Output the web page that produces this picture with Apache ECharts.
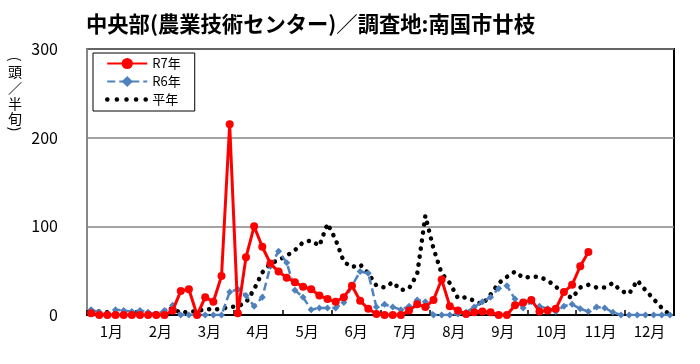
<!DOCTYPE html>
<html><head><meta charset="utf-8">
<script src="https://cdn.jsdelivr.net/npm/echarts@6/dist/echarts.min.js"></script>
<style>html,body{margin:0;padding:0;background:#fff}#c{width:700px;height:364px}</style>
</head><body><div id="c"></div>
<script>
const months = ['1月','2月','3月','4月','5月','6月','7月','8月','9月','10月','11月','12月'];
const yTicks = [0, 100, 200, 300];
const r7 = [2,0,0,0,0,0,0,0,0,0,5,27,29,0,20,15,44,215,2,65,100,77,58,49,42,37,32,29,22,18,15,20,33,16,7,1,0,0,0,5,12,9,17,40,10,5,1,3,4,3,0,0,11,14,17,4,5,7,26,34,55,71];
const r6 = [6,3,0,6,5,4,5,3,1,5,11,0,0,0,0,0,0,26,29,22,10,20,55,72,59,28,20,6,8,8,8,14,33,49,47,9,12,9,6,10,17,15,0,0,0,1,3,9,15,20,30,33,18,8,15,10,7,4,10,12,7,4,9,8,3,0,0,0,0,0,0,0];
const avg = [6,4,3,2,2,1,1,1,2,4,8,2,4,4,7,6,7,9,10,14,29,48,58,62,67,73,82,84,78,103,85,60,54,57,47,33,31,37,28,30,46,112,75,47,36,19,20,16,12,23,36,43,49,42,43,43,39,32,24,19,31,34,31,31,36,27,24,39,28,18,8,0];
const seriesNames = ['R7年','R6年','平年'];
const yNameChars = ['(', '頭', '／', '半', '旬', ')'];

const toPts = arr => arr.map((v, i) => [i + 0.5, v]);
const font = 'Noto Sans CJK JP';
const yNameY = [59, 71.5, 87.5, 103.5, 118.5, 129];
const yNameGraphics = yNameChars.map((ch, k) => ({
  type: 'text', x: 15, y: yNameY[k],
  rotation: (k === 0 || k === yNameChars.length - 1) ? -Math.PI / 2 : 0,
  style: { text: ch, font: '14px "Noto Sans CJK JP"', fill: '#000', align: 'center', verticalAlign: 'middle' }
}));
const chart = echarts.init(document.getElementById('c'));
chart.setOption({
  animation: false,
  backgroundColor: '#fff',
  title: {
    text: '中央部(農業技術センター)／調査地:南国市廿枝',
    left: 81, top: 8,
    textStyle: { fontFamily: font, fontSize: 21.3, fontWeight: 'bold', color: '#000' }
  },
  graphic: yNameGraphics,
  legend: {
    data: [
      { name: seriesNames[0] },
      { name: seriesNames[1] },
      { name: seriesNames[2], itemStyle: { opacity: 0 }, lineStyle: { width: 4.5, type: [0.1, 9.5], cap: 'round', color: '#000' } }
    ],
    orient: 'vertical',
    left: 93, top: 53,
    padding: [4, 14, 5, 12],
    itemGap: 5,
    itemWidth: 40, itemHeight: 14,
    borderColor: '#000', borderWidth: 1,
    backgroundColor: '#fff',
    textStyle: { fontFamily: font, fontSize: 13, color: '#000' }
  },
  grid: { left: 87, right: 26, top: 49, bottom: 49, show: true, borderColor: '#000', borderWidth: 2, containLabel: false },
  xAxis: [{
    type: 'value', min: 0, max: 72, interval: 6,
    axisLine: { lineStyle: { color: '#000', width: 2 } },
    axisTick: { inside: true, length: 5, lineStyle: { color: '#000', width: 1.5 } },
    axisLabel: { show: false },
    splitLine: { show: false }
  }, {
    type: 'category', data: months, position: 'bottom', boundaryGap: true,
    axisLine: { show: false }, axisTick: { show: false }, splitLine: { show: false },
    axisLabel: { fontFamily: font, fontSize: 15, color: '#000', margin: 9, interval: 0 }
  }],
  yAxis: {
    type: 'value', min: yTicks[0], max: yTicks[yTicks.length - 1], interval: 100,
    axisLine: { show: true, lineStyle: { color: '#868686', width: 2 } },
    axisTick: { show: false },
    splitLine: { lineStyle: { color: '#868686', width: 1.5 } },
    axisLabel: { fontFamily: font, fontSize: 16, color: '#000', margin: 29 }
  },
  series: [{
    name: seriesNames[2], type: 'line', xAxisIndex: 0, data: toPts(avg),
    symbol: 'none', z: 2,
    lineStyle: { color: '#000', width: 4.5, type: [0.1, 8], cap: 'round' },
    itemStyle: { color: '#000' }
  }, {
    name: seriesNames[1], type: 'line', xAxisIndex: 0, data: toPts(r6),
    symbol: 'diamond', symbolSize: 7, z: 3,
    lineStyle: { color: '#4F81BD', width: 2.5, type: [8, 4] },
    itemStyle: { color: '#4F81BD' }
  }, {
    name: seriesNames[0], type: 'line', xAxisIndex: 0, data: toPts(r7),
    symbol: 'circle', symbolSize: 8, z: 4,
    lineStyle: { color: '#FF0000', width: 3 },
    itemStyle: { color: '#FF0000' }
  }]
});
</script></body></html>
